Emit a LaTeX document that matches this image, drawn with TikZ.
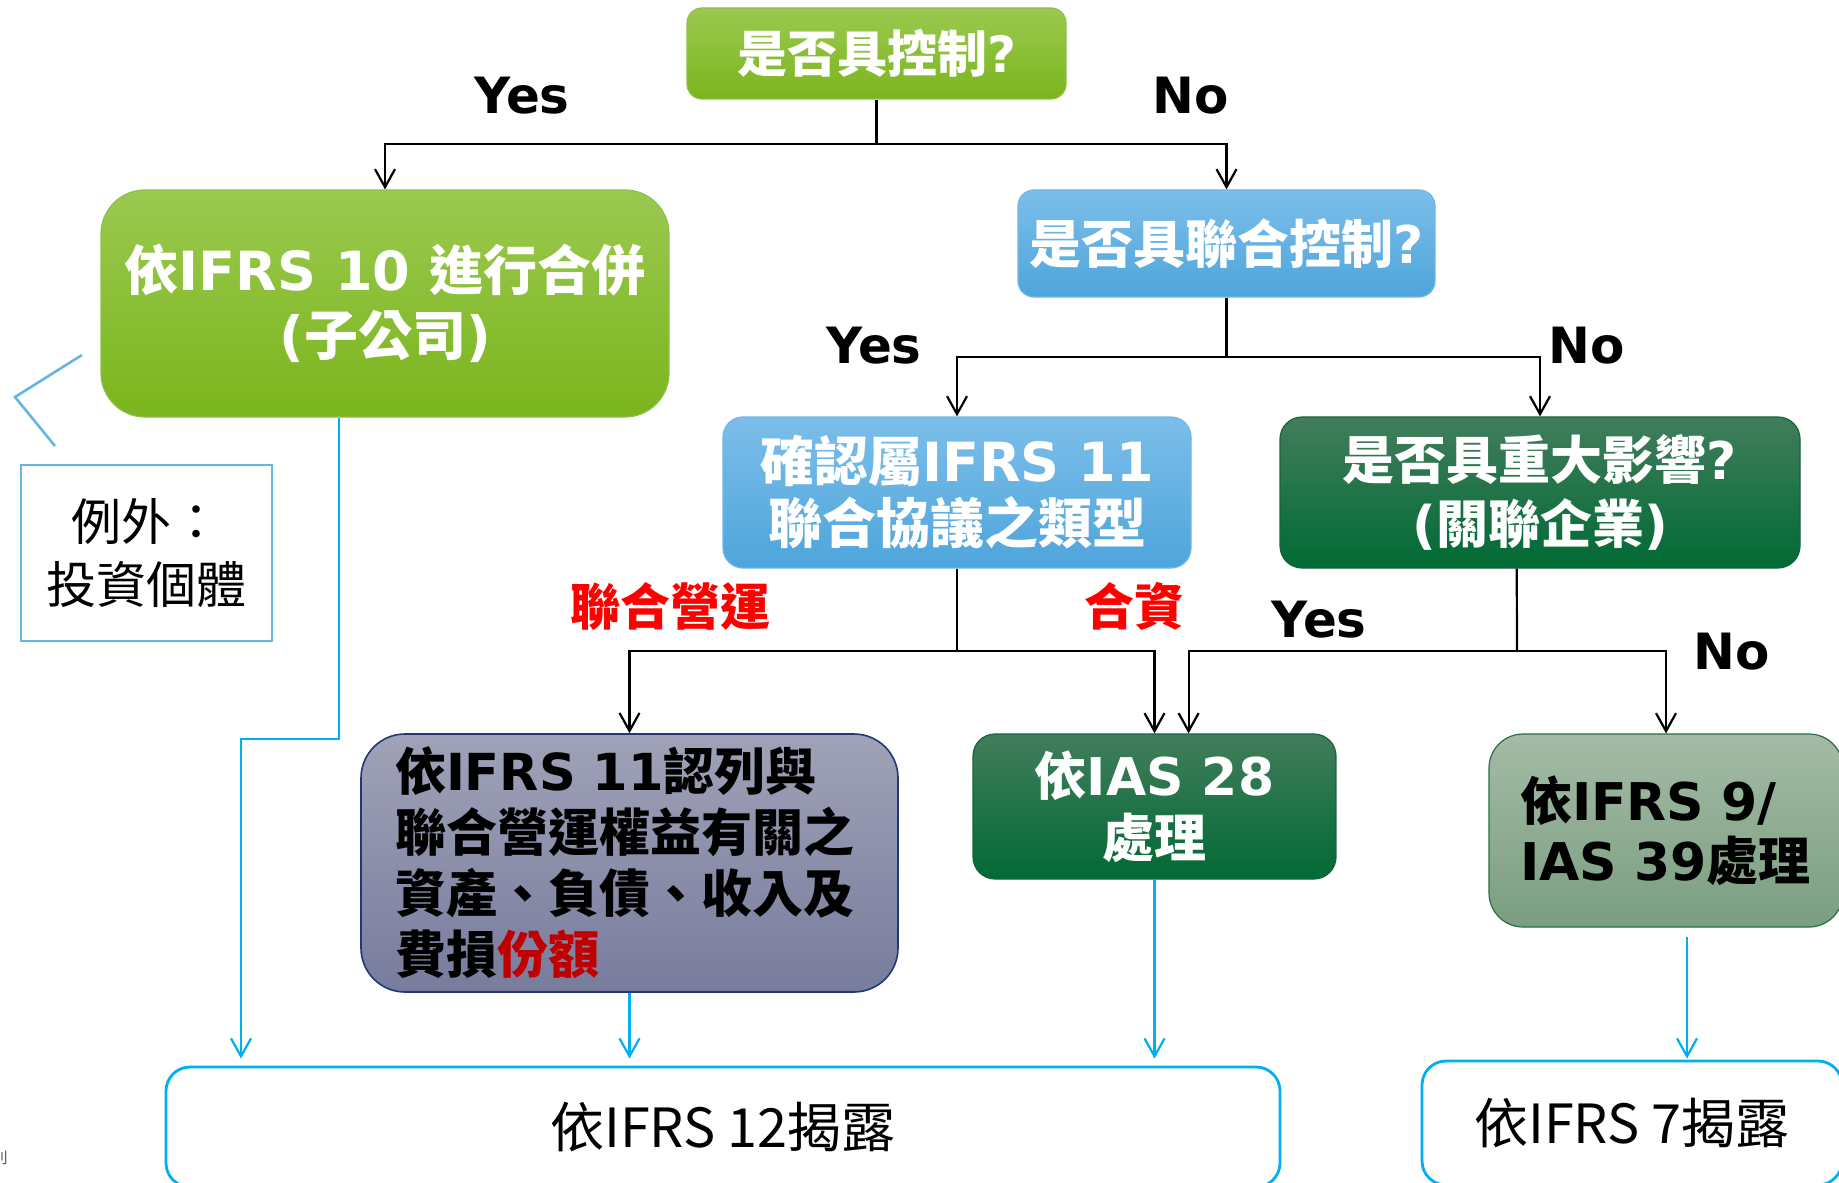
\documentclass[tikz,border=0pt]{standalone}
\usepackage{fontspec}
\setmainfont{Noto Sans CJK TC}
\newfontfamily\latfont{DejaVu Sans}
\usetikzlibrary{arrows.meta,calc}
\newcommand\lat[1]{{\latfont\bfseries #1}}
\definecolor{gtop}{RGB}{155,201,80}
\definecolor{gbot}{RGB}{122,181,28}
\definecolor{gbrd}{RGB}{140,192,70}
\definecolor{btop}{RGB}{124,190,234}
\definecolor{bbot}{RGB}{78,165,219}
\definecolor{bbrd}{RGB}{110,182,230}
\definecolor{dtop}{RGB}{66,125,92}
\definecolor{dbot}{RGB}{0,106,52}
\definecolor{dbrd}{RGB}{20,100,60}
\definecolor{ytop}{RGB}{160,162,183}
\definecolor{ybot}{RGB}{120,124,157}
\definecolor{ybrd}{RGB}{31,56,120}
\definecolor{ntop}{RGB}{164,187,166}
\definecolor{nbot}{RGB}{122,158,128}
\definecolor{nbrd}{RGB}{40,110,70}
\definecolor{cyanl}{RGB}{0,176,240}
\definecolor{lblue}{RGB}{100,180,228}
\definecolor{redlab}{RGB}{255,0,0}
\definecolor{darkred}{RGB}{192,0,0}
\tikzset{
  box/.style={inner sep=0pt, align=center},
  greenbox/.style={box, top color=gtop, bottom color=gbot, draw=gbrd, line width=0.6pt, text=white},
  bluebox/.style={box, top color=btop, bottom color=bbot, draw=bbrd, line width=0.6pt, text=white},
  dkbox/.style={box, top color=dtop, middle color=dbot, bottom color=dbot, draw=dbrd, line width=0.6pt, text=white},
  graybox/.style={box, top color=ytop, bottom color=ybot, draw=ybrd, line width=0.8pt, text=black},
  ggbox/.style={box, top color=ntop, bottom color=nbot, draw=nbrd, line width=0.6pt, text=black},
  discbox/.style={box, draw=cyanl, line width=1.4pt, fill=white, text=black},
  excbox/.style={box, draw=lblue, line width=1.3pt, fill=white, text=black},
  conn/.style={draw=black, line width=1.1pt, -{Straight Barb[length=9pt,width=10pt]}},
  plain/.style={draw=black, line width=1.1pt},
  cyconn/.style={draw=cyanl, line width=1.1pt, -{Straight Barb[length=9pt,width=10pt]}},
  yn/.style={font=\latfont\bfseries\fontsize{25}{30}\selectfont, text=black, inner sep=0pt},
  redl/.style={font=\bfseries\fontsize{25}{30}\selectfont, text=redlab, inner sep=0pt},
}
\begin{document}
\begin{tikzpicture}[x=0.5pt, y=-0.5pt]
\useasboundingbox (0,0) rectangle (1839,1182);
\clip (0,0) rectangle (1839,1182);

% boxes
\node[greenbox, minimum width=189.5pt, minimum height=45.5pt, rounded corners=7.5pt,
      font=\bfseries\fontsize{25}{30}\selectfont] (q1) at (876.5,53.5) {是否具控制\lat{?}};
\node[greenbox, minimum width=284pt, minimum height=113.5pt, rounded corners=22pt,
      font=\bfseries\fontsize{27}{32.5}\selectfont] (ifrs10) at (385,303.5)
      {依\lat{IFRS 10 }進行合併\\\lat{(}子公司\lat{)}};
\node[bluebox, minimum width=208.5pt, minimum height=53.5pt, rounded corners=8pt,
      font=\bfseries\fontsize{26}{30}\selectfont] (q2) at (1226.5,243.5) {是否具聯合控制\lat{?}};
\node[bluebox, minimum width=234pt, minimum height=75.5pt, rounded corners=10pt,
      font=\bfseries\fontsize{27}{31}\selectfont] (jtype) at (957,492.5)
      {確認屬\lat{IFRS 11}\\聯合協議之類型};
\node[dkbox, minimum width=260pt, minimum height=75.5pt, rounded corners=11pt,
      font=\bfseries\fontsize{26}{32}\selectfont] (q3) at (1540,492.5)
      {是否具重大影響\lat{?}\\\lat{(}關聯企業\lat{)}};
\node[graybox, minimum width=268.5pt, minimum height=129pt, rounded corners=22pt,
      text width=234.5pt, align=left,
      font=\bfseries\fontsize{25.5}{30.5}\selectfont] (jops) at (629.5,863)
      {依\lat{IFRS 11}認列與\\聯合營運權益有關之\\資產、負債、收入及\\費損\textcolor{darkred}{份額}};
\node[dkbox, minimum width=181.5pt, minimum height=72.5pt, rounded corners=11pt,
      font=\bfseries\fontsize{26}{31}\selectfont] (ias28) at (1154.5,806.5)
      {依\lat{IAS 28}\\處理};
\node[ggbox, minimum width=177pt, minimum height=96.5pt, rounded corners=17pt,
      text width=146pt, align=left,
      font=\bfseries\fontsize{26}{30}\selectfont] (ifrs9) at (1666,830.5)
      {依\lat{IFRS 9/}\\\lat{IAS 39}處理};
\node[discbox, minimum width=557pt, minimum height=60pt, rounded corners=12pt,
      font=\fontsize{27}{32}\selectfont] (ifrs12) at (723,1127) {依IFRS 12揭露};
\node[discbox, minimum width=210pt, minimum height=62pt, rounded corners=12pt,
      font=\fontsize{27}{32}\selectfont] (ifrs7) at (1632,1123) {依IFRS 7揭露};
\node[excbox, minimum width=125.5pt, minimum height=88pt,
      font=\fontsize{25}{31.5}\selectfont] (exc) at (146.5,553) {例外：\\投資個體};

% labels
\node[yn] (yes1) at (522,96) {Yes};
\node[yn] (no1) at (1191,96) {No};
\node[yn] (yes2) at (874,346) {Yes};
\node[yn] (no2) at (1587,346) {No};
\node[yn] (yes3) at (1319,620) {Yes};
\node[yn] (no3) at (1732,652) {No};
\node[redl] (jo) at (670,606) {聯合營運};
\node[redl] (jv) at (1134,606) {合資};

% black connectors
\coordinate (j1) at (876.5,144);
\coordinate (j2) at (1226.5,357);
\coordinate (j3) at (957,651);
\coordinate (j4) at (1517,651);
\draw[plain] (q1.south) -- (j1);
\draw[conn] (j1) -| (ifrs10.north);
\draw[conn] (j1) -| (q2.north);
\draw[plain] (q2.south) -- (j2);
\draw[conn] (j2) -| (jtype.north);
\draw[conn] (j2) -| (q3.north);
\draw[plain] (jtype.south) -- (j3);
\draw[conn] (j3) -| (jops.north);
\draw[conn] (j3) -| (ias28.north);
\draw[plain] (q3.-107) -- (j4);
\draw[conn] (j4) -| (ias28.65);
\draw[conn] (j4) -| (ifrs9.north);

% cyan connectors
\coordinate (c1) at (241,739);
\draw[cyconn, shorten >=3.5pt] (ifrs10.-112.5) |- (c1) -- (c1 |- ifrs12.north);
\draw[cyconn, shorten >=3.5pt] (jops.south) -- (jops.south |- ifrs12.north);
\draw[cyconn, shorten >=3.5pt] (ias28.south) -- (ias28.south |- ifrs12.north);
\draw[cyconn, shorten >=0.5pt] ([xshift=10.5pt, yshift=-4.5pt]ifrs9.south) -- ([xshift=10.5pt]ifrs9.south |- ifrs7.north);

% callout pointer
\coordinate (p1) at (82,355);
\coordinate (p2) at (15,397);
\coordinate (p3) at (55,446);
\draw[draw=lblue, line width=1.3pt] (p1) -- (p2) -- (p3);

% clipped fragment at bottom-left
\node[anchor=east, inner sep=0pt, text=black!70, font=\fontsize{7.5}{9}\selectfont] (frag) at (8,1158) {則};
\end{tikzpicture}
\end{document}
